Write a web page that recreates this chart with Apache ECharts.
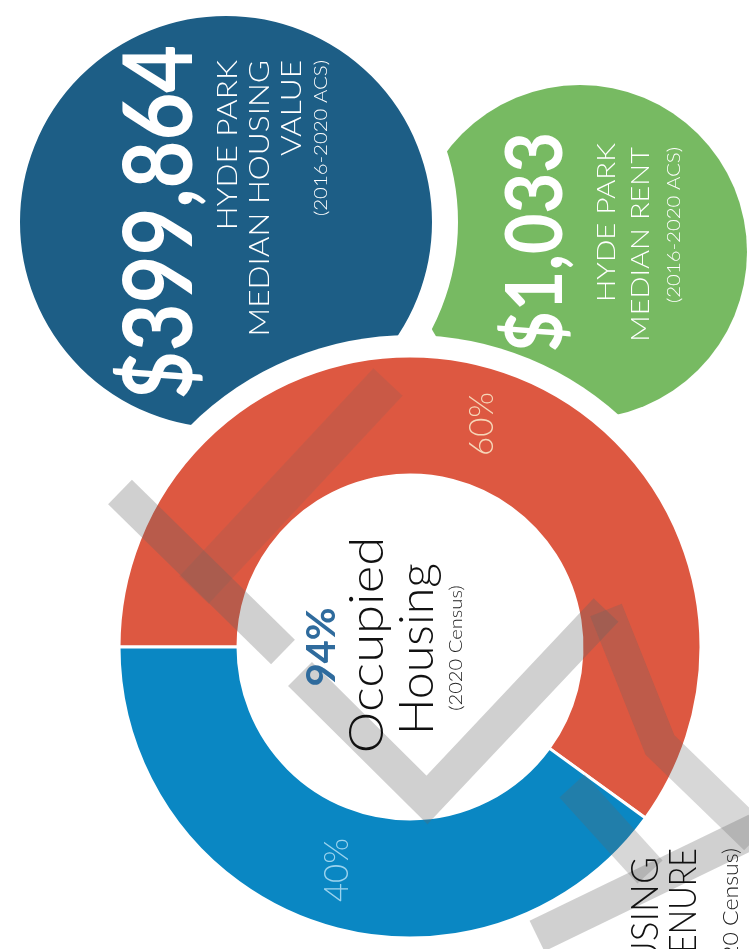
<!DOCTYPE html>
<html>
<head>
<meta charset="utf-8">
<script src="https://cdn.jsdelivr.net/npm/echarts@6/dist/echarts.min.js"></script>
<style>
  html, body { margin: 0; padding: 0; background: #ffffff; }
  #chart { width: 749px; height: 949px; }
</style>
</head>
<body>
<div id="chart"></div>
<script>
// Housing tenure split (percent of occupied units)
const tenureShares = [60, 40];
// Headline figures
const medianHousingValue = 399864;
const medianRent = 1033;
const occupiedShare = 94;
// Text blocks
const valueLines = ['HYDE PARK', 'MEDIAN HOUSING', 'VALUE'];
const rentLines = ['HYDE PARK', 'MEDIAN RENT'];
const acsSource = '(2016-2020 ACS)';
const censusSource = '(2020 Census)';
const centerLines = ['Occupied', 'Housing'];
const sectionLines = ['HOUSING', 'TENURE'];

const tenureColors = ['#dd5841', '#0a87c3'];
const tenureLabelColors = ['#f6d6b8', '#9bd3ee'];

const FONT = 'Lato, "Open Sans", sans-serif';
const ROT = Math.PI / 2; // all text reads bottom-to-top

function vtext(x, y, text, size, o) {
  o = o || {};
  return {
    type: 'text', x: x, y: y, rotation: ROT, z: 20,
    scaleX: o.sx || 1,
    style: {
      text: text, fill: o.color || '#ffffff',
      fontSize: size, fontFamily: o.family || FONT,
      fontWeight: o.weight || 300,
      align: o.align || 'center', verticalAlign: 'middle'
    },
    silent: true
  };
}

// translucent grey strokes of the background logo
function band(points, alpha, width) {
  return {
    type: 'polyline', z: 8, silent: true,
    shape: { points: points },
    style: {
      stroke: 'rgba(100,100,100,' + (alpha || 0.3) + ')',
      lineWidth: width || 34, fill: null, lineCap: 'butt', lineJoin: 'miter'
    }
  };
}

const fmt = n => n.toLocaleString('en-US');

const chart = echarts.init(document.getElementById('chart'), null, { renderer: 'canvas' });

const graphics = [
  // value bubbles
  { type: 'circle', z: 0, silent: true, shape: { cx: 580, cy: 252, r: 167 }, style: { fill: '#77ba62' } },
  { type: 'circle', z: 1, silent: true, shape: { cx: 226, cy: 222, r: 219 }, style: { fill: '#1d5e86', stroke: '#ffffff', lineWidth: 26 } },

  // logo strokes
  band([[120, 492], [283, 652]]),
  band([[388, 382], [194, 590]], 0.16, 40),
  band([[300, 674], [427, 800], [606, 610]]),
  band([[606, 610], [660, 745], [756, 838]], 0.26),
  band([[537, 936], [756, 830]]),
  band([[572, 786], [650, 872]], 0.26),

  // median housing value
  vtext(161, 222, '$' + fmt(medianHousingValue), 96, { weight: 700, sx: 0.86 }),
  vtext(228, 60, valueLines[0], 27, { align: 'right', sx: 1.17 }),
  vtext(260, 60, valueLines[1], 27, { align: 'right', sx: 1.17 }),
  vtext(292, 60, valueLines[2], 27, { align: 'right', sx: 1.17 }),
  vtext(322, 60, acsSource, 17, { align: 'right', sx: 1.2 }),

  // median rent
  vtext(537, 242, '$' + fmt(medianRent), 78, { weight: 700, sx: 0.9 }),
  vtext(607, 143, rentLines[0], 25, { align: 'right', sx: 1.18 }),
  vtext(641, 147, rentLines[1], 25, { align: 'right', sx: 1.16 }),
  vtext(675, 147, acsSource, 17, { align: 'right', sx: 1.2 }),

  // donut centre
  vtext(322, 647, occupiedShare + '%', 40, { weight: 700, color: '#2f6b9d' }),
  vtext(368, 645, centerLines[0], 47, { color: '#111111', sx: 1.12 }),
  vtext(418, 649, centerLines[1], 47, { color: '#111111', sx: 1.03 }),
  vtext(456, 648, censusSource, 18, { color: '#222222', sx: 1.12 }),

  // section heading
  vtext(646, 857, sectionLines[0], 38, { align: 'right', color: '#111111', sx: 0.97 }),
  vtext(684, 848, sectionLines[1], 38, { align: 'right', color: '#111111', sx: 0.85 }),
  vtext(731, 848, censusSource, 22, { align: 'right', color: '#222222', sx: 1.05 })
];

chart.setOption({
  animation: false,
  backgroundColor: '#ffffff',
  graphic: { elements: graphics },
  series: [
    {
      // white halo separating the donut from the bubbles
      type: 'pie', z: 3, silent: true,
      center: [410, 647], radius: [0, 312],
      label: { show: false }, labelLine: { show: false },
      emphasis: { disabled: true },
      data: [{ value: 1, itemStyle: { color: '#ffffff' } }]
    },
    {
      type: 'pie', z: 4, silent: true,
      center: [410, 647], radius: [172, 291],
      startAngle: 180, clockwise: true,
      avoidLabelOverlap: false,
      emphasis: { disabled: true },
      itemStyle: { borderColor: '#ffffff', borderWidth: 3 },
      labelLine: { show: false },
      label: {
        show: true, position: 'inside', rotate: 90,
        fontFamily: FONT, fontWeight: 300, fontSize: 33,
        formatter: p => p.value + '%'
      },
      data: tenureShares.map((v, i) => ({
        value: v,
        itemStyle: { color: tenureColors[i] },
        label: { color: tenureLabelColors[i] }
      }))
    }
  ]
});
</script>
</body>
</html>
